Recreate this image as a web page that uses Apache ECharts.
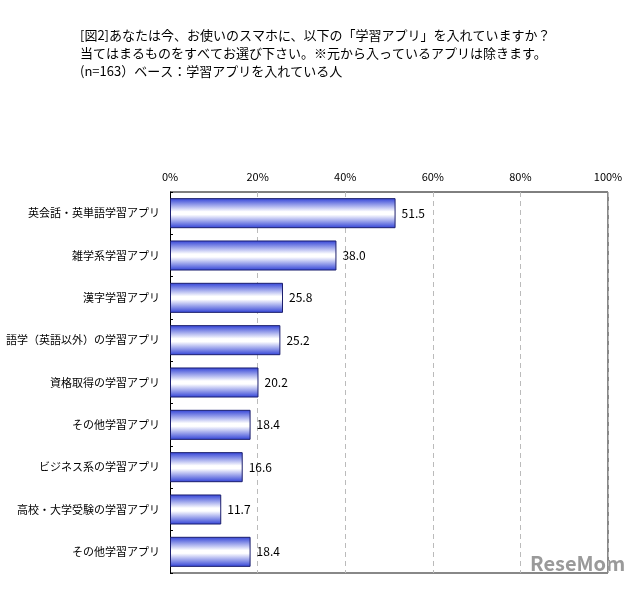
<!DOCTYPE html>
<html>
<head>
<meta charset="utf-8">
<script src="https://cdn.jsdelivr.net/npm/echarts@6/dist/echarts.min.js"></script>
<style>
  html, body { margin: 0; padding: 0; background: #fff; }
  #chart { width: 640px; height: 589px; }
</style>
</head>
<body>
<div id="chart"></div>
<script>
const categories = [
  "英会話・英単語学習アプリ",
  "雑学系学習アプリ",
  "漢字学習アプリ",
  "語学（英語以外）の学習アプリ",
  "資格取得の学習アプリ",
  "その他学習アプリ",
  "ビジネス系の学習アプリ",
  "高校・大学受験の学習アプリ",
  "その他学習アプリ"
];
const values = [51.5, 38.0, 25.8, 25.2, 20.2, 18.4, 16.6, 11.7, 18.4];
const titleLines = [
  "[図2]あなたは今、お使いのスマホに、以下の「学習アプリ」を入れていますか？",
  "当てはまるものをすべてお選び下さい。※元から入っているアプリは除きます。",
  "(n=163）ベース：学習アプリを入れている人"
];

const font = '"Noto Sans CJK JP", sans-serif';
const chart = echarts.init(document.getElementById("chart"));
chart.setOption({
  animation: false,
  textStyle: { fontFamily: font },
  title: {
    text: titleLines.join("\n"),
    left: 75,
    top: 21,
    textStyle: { fontSize: 13, fontWeight: "normal", color: "#000", lineHeight: 18, fontFamily: font }
  },
  grid: { left: 170, right: 32, top: 192, bottom: 16, containLabel: false, outerBoundsMode: "none" },
  xAxis: {
    type: "value",
    position: "top",
    min: 0,
    max: 100,
    interval: 20,
    axisLabel: { formatter: "{value}%", color: "#000", fontSize: 11, margin: 10 },
    axisLine: { show: false },
    axisTick: { show: false },
    splitLine: { show: true, lineStyle: { color: "#bbb", type: [5, 4], width: 1 } }
  },
  yAxis: {
    type: "category",
    inverse: true,
    data: categories,
    axisLine: { show: true, lineStyle: { color: "#000", width: 1 } },
    axisTick: { show: true, inside: true, length: 3, lineStyle: { color: "#000" } },
    axisLabel: { color: "#000", fontSize: 11, margin: 10 }
  },
  graphic: [
    { type: "line", shape: { x1: 170, y1: 192, x2: 608, y2: 192 }, style: { stroke: "#000", lineWidth: 1 } },
    { type: "line", shape: { x1: 608, y1: 192, x2: 608, y2: 573 }, style: { stroke: "#888", lineWidth: 2 } },
    { type: "line", shape: { x1: 170, y1: 573, x2: 608, y2: 573 }, style: { stroke: "#888", lineWidth: 2 } },
    { type: "text", left: 530, top: 553, style: { text: "ReseMom", fill: "#9a9a9a", font: "bold 20px " + font } }
  ],
  series: [{
    type: "bar",
    data: values,
    barCategoryGap: "29%",
    itemStyle: {
      borderColor: "#1c1f6e",
      borderWidth: 1,
      color: new echarts.graphic.LinearGradient(0, 0, 0, 1, [
        { offset: 0, color: "#2f40d6" },
        { offset: 0.45, color: "#ffffff" },
        { offset: 0.55, color: "#ffffff" },
        { offset: 1, color: "#2f40d6" }
      ])
    },
    label: {
      show: true,
      position: "right",
      distance: 6,
      color: "#000",
      fontSize: 12,
      formatter: p => p.value.toFixed(1)
    }
  }]
});
</script>
</body>
</html>
